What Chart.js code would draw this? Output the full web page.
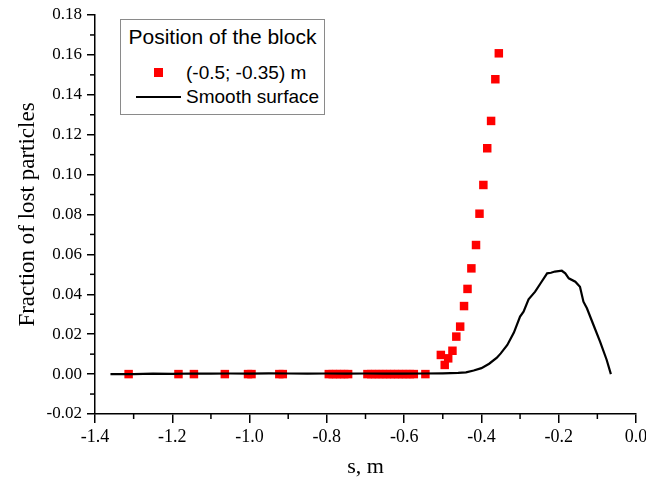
<!DOCTYPE html>
<html><head><meta charset="utf-8">
<script src="https://cdn.jsdelivr.net/npm/chart.js@4/dist/chart.umd.min.js"></script>
<style>
body{margin:0;background:#fff;}
#wrap{position:relative;width:646px;height:480px;}
#legend{position:absolute;left:120px;top:19px;width:205px;height:96px;border:1px solid #8a8a8a;background:#fff;font-family:"Liberation Sans",Arial,sans-serif;box-sizing:border-box;color:#000;}
#legend .t{position:absolute;left:0;width:100%;text-align:center;top:5px;font-size:21px;line-height:24px;white-space:nowrap;}
#legend .sq{position:absolute;left:33px;top:48px;width:9px;height:9px;background:#ff0000;}
#legend .ln{position:absolute;left:15px;top:76px;width:45px;height:2px;background:#000;}
#legend .l1{position:absolute;left:65px;top:42px;font-size:19px;line-height:22px;white-space:nowrap;}
#legend .l2{position:absolute;left:65px;top:66px;font-size:19px;line-height:22px;white-space:nowrap;}
</style>
</head><body>
<div id="wrap">
<canvas id="c" width="646" height="480"></canvas>
<div id="legend"><div class="t">Position of the block</div><div class="sq"></div><div class="l1">(-0.5; -0.35) m</div><div class="ln"></div><div class="l2">Smooth surface</div></div>
</div>
<script>
const scatterS = [-1.313,-1.184,-1.144,-1.064,-1.004,-0.995,-0.923,-0.914,-0.795,-0.785,-0.775,-0.765,-0.755,-0.745,-0.695,-0.685,-0.675,-0.665,-0.655,-0.645,-0.635,-0.625,-0.615,-0.605,-0.595,-0.585,-0.575,-0.545,-0.505,-0.495,-0.486,-0.475,-0.465,-0.455,-0.445,-0.436,-0.426,-0.414,-0.405,-0.395,-0.385,-0.375,-0.364,-0.355];
const scatterV = [0,0,0,0,0,0,0,0,0,0,0,0,0,0,0,0,0,0,0,0,0,0,0,0,0,0,0,0,0.0096,0.0046,0.0079,0.0117,0.0188,0.0238,0.0341,0.0427,0.053,0.0647,0.0804,0.0948,0.1132,0.1269,0.1478,0.1608];
const lineS = [-1.36,-1.30,-1.25,-1.20,-1.15,-1.10,-1.05,-1.00,-0.95,-0.90,-0.85,-0.80,-0.75,-0.70,-0.65,-0.60,-0.55,-0.50,-0.46,-0.44,-0.42,-0.40,-0.38,-0.36,-0.35,-0.333,-0.316,-0.30,-0.291,-0.278,-0.261,-0.246,-0.23,-0.22,-0.21,-0.192,-0.183,-0.174,-0.157,-0.145,-0.136,-0.127,-0.11,-0.093,-0.076,-0.065];
const lineV = [0,0,0.0002,0.0001,0.0003,0.0002,0.0003,0.0002,0.0004,0.0003,0.0002,0.0003,0.0002,0.0003,0.0002,0.0002,0.0003,0.0004,0.0006,0.0009,0.0018,0.003,0.0052,0.0082,0.0104,0.0146,0.0208,0.0288,0.0313,0.0375,0.0413,0.0458,0.0505,0.0508,0.0514,0.0518,0.0505,0.048,0.0463,0.0438,0.0363,0.033,0.0246,0.0163,0.0072,0.0];
const xTicks = [-1.4,-1.2,-1.0,-0.8,-0.6,-0.4,-0.2,0.0];
const xMinor = [-1.3,-1.1,-0.9,-0.7,-0.5,-0.3,-0.1];
const yTicks = [-0.02,0.00,0.02,0.04,0.06,0.08,0.10,0.12,0.14,0.16,0.18];
const yMinor = [-0.01,0.01,0.03,0.05,0.07,0.09,0.11,0.13,0.15,0.17];

const minorTicks = {
  id:'minorTicks',
  afterDraw(chart){
    const ctx=chart.ctx, x=chart.scales.x, y=chart.scales.y;
    ctx.save(); ctx.strokeStyle='#000'; ctx.lineWidth=1.5;
    xMinor.forEach(v=>{const px=x.getPixelForValue(v); ctx.beginPath(); ctx.moveTo(px,x.top); ctx.lineTo(px,x.top+5); ctx.stroke();});
    yMinor.forEach(v=>{const py=y.getPixelForValue(v); ctx.beginPath(); ctx.moveTo(y.right,py); ctx.lineTo(y.right-5,py); ctx.stroke();});
    ctx.restore();
  }
};

const serif = "'Liberation Serif','Times New Roman',serif";
new Chart(document.getElementById('c'), {
  type:'scatter',
  data:{datasets:[
    {label:'(-0.5; -0.35) m', data:scatterS.map((s,i)=>({x:s,y:scatterV[i]})), pointStyle:'rect', pointRadius:6, pointHoverRadius:6, backgroundColor:'#ff0000', borderColor:'#ff0000', borderWidth:0, order:2},
    {label:'Smooth surface', data:lineS.map((s,i)=>({x:s,y:lineV[i]})), showLine:true, pointRadius:0, borderColor:'#000', borderWidth:2.2, tension:0, order:1}
  ]},
  options:{
    responsive:false, animation:false,
    layout:{padding:{left:0,right:10,top:15,bottom:0}},
    plugins:{legend:{display:false}, tooltip:{enabled:false}},
    scales:{
      x:{type:'linear', min:-1.4, max:0,
        afterBuildTicks:s=>{s.ticks=xTicks.map(v=>({value:v}));},
        afterFit:s=>{s.height=66; s.paddingRight=0; s.paddingLeft=0;},
        ticks:{callback:v=>v.toFixed(1), color:'#000', font:{family:serif,size:18}, padding:3, maxRotation:0, autoSkip:false},
        grid:{display:true, drawOnChartArea:false, drawTicks:true, tickLength:9, color:'#000', lineWidth:1.5},
        border:{display:true, color:'#000', width:1.5},
        title:{display:true, text:'s, m', color:'#000', font:{family:serif,size:22}, padding:{top:0,bottom:0}}
      },
      y:{type:'linear', min:-0.02, max:0.18,
        afterBuildTicks:s=>{s.ticks=yTicks.map(v=>({value:v}));},
        afterFit:s=>{s.width=95; s.paddingTop=0; s.paddingBottom=0;},
        ticks:{callback:v=>v.toFixed(2), color:'#000', font:{family:serif,size:17}, padding:5, autoSkip:false},
        grid:{display:true, drawOnChartArea:false, drawTicks:true, tickLength:8, color:'#000', lineWidth:1.5},
        border:{display:true, color:'#000', width:1.5},
        title:{display:true, text:'Fraction of lost particles', color:'#000', font:{family:serif,size:23}, padding:{top:14,bottom:0}}
      }
    }
  },
  plugins:[minorTicks]
});
</script>
</body></html>
